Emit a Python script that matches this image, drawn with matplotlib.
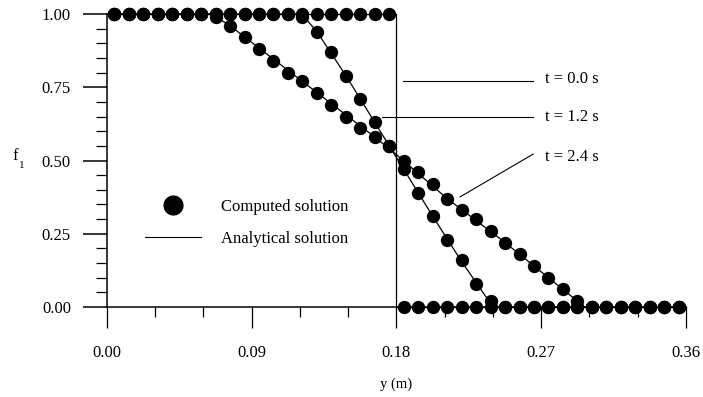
import matplotlib
matplotlib.use('Agg')
import matplotlib.pyplot as plt
from matplotlib.lines import Line2D
from matplotlib.ticker import MultipleLocator, FormatStrFormatter

plt.rcParams['font.family'] = ['Liberation Serif', 'DejaVu Serif']

# cell centres (m), one computed value per cell
cells = [0.0045, 0.0135, 0.0225, 0.0315, 0.0405, 0.0495, 0.0585, 0.0675, 0.0765, 0.0855,
         0.0945, 0.1035, 0.1125, 0.1215, 0.1305, 0.1395, 0.1485, 0.1575, 0.1665, 0.1755,
         0.1845, 0.1935, 0.2025, 0.2115, 0.2205, 0.2295, 0.2385, 0.2475, 0.2565, 0.2655,
         0.2745, 0.2835, 0.2925, 0.3015, 0.3105, 0.3195, 0.3285, 0.3375, 0.3465, 0.3555]

f_t00 = [1, 1, 1, 1, 1, 1, 1, 1, 1, 1,
         1, 1, 1, 1, 1, 1, 1, 1, 1, 1,
         0, 0, 0, 0, 0, 0, 0, 0, 0, 0,
         0, 0, 0, 0, 0, 0, 0, 0, 0, 0]

f_t12 = [1.0, 1.0, 1.0, 1.0, 1.0, 1.0, 1.0, 1.0, 1.0, 1.0,
         1.0, 1.0, 1.0, 0.99, 0.94, 0.87, 0.79, 0.71, 0.63, 0.55,
         0.47, 0.39, 0.31, 0.23, 0.16, 0.08, 0.02, 0.0, 0.0, 0.0,
         0.0, 0.0, 0.0, 0.0, 0.0, 0.0, 0.0, 0.0, 0.0, 0.0]

f_t24 = [1.0, 1.0, 1.0, 1.0, 1.0, 1.0, 1.0, 0.99, 0.96, 0.92,
         0.88, 0.84, 0.80, 0.77, 0.73, 0.69, 0.65, 0.61, 0.58, 0.55,
         0.50, 0.46, 0.42, 0.37, 0.33, 0.30, 0.26, 0.22, 0.18, 0.14,
         0.10, 0.06, 0.02, 0.0, 0.0, 0.0, 0.0, 0.0, 0.0, 0.0]

# analytical solution, break points
ex_y_t00 = [0.0, 0.18, 0.18, 0.36]
ex_f_t00 = [1.0, 1.0, 0.0, 0.0]
ex_y_t12 = [0.0, 0.121, 0.1305, 0.1485, 0.1665, 0.18, 0.2025, 0.2205, 0.24, 0.36]
ex_f_t12 = [1.0, 1.0, 0.94, 0.79, 0.63, 0.51, 0.31, 0.155, 0.0, 0.0]
ex_y_t24 = [0.0, 0.065, 0.0765, 0.1215, 0.1665, 0.18, 0.2115, 0.2475, 0.2835, 0.297, 0.36]
ex_f_t24 = [1.0, 1.0, 0.96, 0.77, 0.58, 0.52, 0.37, 0.22, 0.06, 0.0, 0.0]

time_labels = ['t = 0.0 s', 't = 1.2 s', 't = 2.4 s']

fig = plt.figure(figsize=(7.03, 3.97), dpi=100)
ax = fig.add_axes([0.1522, 0.2267, 0.8236, 0.7380])

for xs, fs in [(ex_y_t00, ex_f_t00), (ex_y_t12, ex_f_t12), (ex_y_t24, ex_f_t24)]:
    ax.plot(xs, fs, color='k', lw=0.9, clip_on=False, zorder=2)
for fs in [f_t00, f_t12, f_t24]:
    ax.plot(cells, fs, 'o', color='k', ms=9.6, mew=0, clip_on=False, zorder=3)

ax.set_xlim(0, 0.36)
ax.set_ylim(0, 1.0)
ax.spines['top'].set_visible(False)
ax.spines['right'].set_visible(False)
ax.spines['left'].set_linewidth(1.1)
ax.spines['bottom'].set_linewidth(1.1)

ax.xaxis.set_major_locator(MultipleLocator(0.09))
ax.xaxis.set_minor_locator(MultipleLocator(0.03))
ax.yaxis.set_major_locator(MultipleLocator(0.25))
ax.yaxis.set_minor_locator(MultipleLocator(0.05))
ax.xaxis.set_major_formatter(FormatStrFormatter('%.2f'))
ax.yaxis.set_major_formatter(FormatStrFormatter('%.2f'))
ax.tick_params(axis='x', which='major', direction='out', length=15, width=0.9, pad=12, labelsize=12)
ax.tick_params(axis='x', which='minor', direction='out', length=7, width=0.9)
ax.tick_params(axis='y', which='major', direction='out', length=17, width=1.1, pad=9, labelsize=12)
ax.tick_params(axis='y', which='minor', direction='out', length=8, width=0.9)

ax.set_xlabel('y (m)', fontsize=10.5, labelpad=12)
fig.text(15 / 703, 1 - 156 / 397, 'f', fontsize=12, ha='center', va='center')
fig.text(22 / 703, 1 - 166 / 397, '1', fontsize=8, ha='center', va='center')

# time labels with leader lines
ax.plot([0.184, 0.265], [0.772, 0.772], color='k', lw=0.8)
ax.plot([0.171, 0.265], [0.649, 0.649], color='k', lw=0.8)
ax.plot([0.2196, 0.265], [0.376, 0.522], color='k', lw=0.8)
for lab, yy in zip(time_labels, [0.777, 0.649, 0.512]):
    ax.text(0.2726, yy, lab, fontsize=12, ha='left', va='center')

handles = [Line2D([], [], marker='o', color='k', ls='none', ms=14.5, mew=0),
           Line2D([], [], color='k', lw=0.8)]
ax.legend(handles, ['Computed solution', 'Analytical solution'],
          loc='center left', bbox_to_anchor=(0.065, 0.288), frameon=False,
          fontsize=12, handlelength=3.4, handletextpad=1.2, labelspacing=0.96,
          borderpad=0, borderaxespad=0)

fig.savefig('out.png', dpi=100)
